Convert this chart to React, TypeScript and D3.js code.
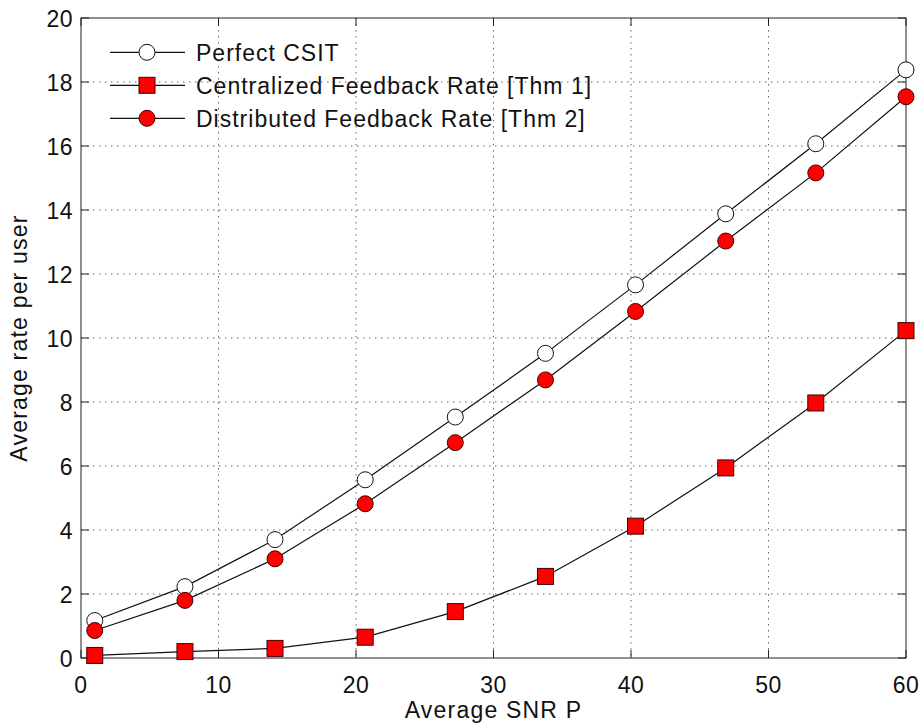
import React from "react";
import * as d3 from "d3";

const snr = [1, 7.56, 14.11, 20.67, 27.22, 33.78, 40.33, 46.89, 53.44, 60];
const perfectCSIT = [1.17, 2.23, 3.7, 5.57, 7.53, 9.52, 11.66, 13.88, 16.07, 18.38];
const centralized = [0.08, 0.2, 0.3, 0.65, 1.45, 2.55, 4.12, 5.94, 7.97, 10.23];
const distributed = [0.86, 1.8, 3.1, 4.82, 6.73, 8.69, 10.83, 13.03, 15.16, 17.54];
const xTicks = [0, 10, 20, 30, 40, 50, 60];
const yTicks = [0, 2, 4, 6, 8, 10, 12, 14, 16, 18, 20];
const legendLabels = [
  "Perfect CSIT",
  "Centralized Feedback Rate [Thm 1]",
  "Distributed Feedback Rate [Thm 2]",
];

const W = 924, H = 726;
const L = 81, R = 906, T = 18, B = 658;
const FONT = "'Liberation Sans', Arial, Helvetica, sans-serif";

export default function App() {
  const x = d3.scaleLinear().domain([0, 60]).range([L, R]);
  const y = d3.scaleLinear().domain([0, 20]).range([B, T]);
  const line = d3.line<number>().x((_, i) => x(snr[i])).y((d) => y(d));
  const gridStyle = { stroke: "#666", strokeWidth: 1, strokeDasharray: "1.5,4.5" };
  const tickLen = 8;

  const series = [
    { data: perfectCSIT, marker: "openCircle" },
    { data: centralized, marker: "square" },
    { data: distributed, marker: "circle" },
  ];

  const marker = (type: string, cx: number, cy: number, key: any) => {
    if (type === "openCircle")
      return <circle key={key} cx={cx} cy={cy} r={8} fill="white" stroke="#111" strokeWidth={1} />;
    if (type === "circle")
      return <circle key={key} cx={cx} cy={cy} r={8} fill="#ff0000" stroke="#400" strokeWidth={1} />;
    return <rect key={key} x={cx - 8} y={cy - 8} width={16} height={16} fill="#ff0000" stroke="#400" strokeWidth={1} />;
  };

  return (
    <svg width={W} height={H} style={{ position: "absolute", left: 0, top: 0, background: "white" }} fontFamily={FONT}>
      <rect x={0} y={0} width={W} height={H} fill="white" />
      {/* grid */}
      {xTicks.slice(1, -1).map((t) => (
        <line key={"gx" + t} x1={x(t)} x2={x(t)} y1={T} y2={B} style={gridStyle} />
      ))}
      {yTicks.slice(1, -1).map((t) => (
        <line key={"gy" + t} x1={L} x2={R} y1={y(t)} y2={y(t)} style={gridStyle} />
      ))}
      {/* axes box */}
      <rect x={L} y={T} width={R - L} height={B - T} fill="none" stroke="#222" strokeWidth={1} />
      {/* ticks */}
      {xTicks.map((t) => (
        <g key={"tx" + t}>
          <line x1={x(t)} x2={x(t)} y1={B} y2={B - tickLen} stroke="#222" />
          <line x1={x(t)} x2={x(t)} y1={T} y2={T + tickLen} stroke="#222" />
          <text x={x(t)} y={B + 35} fontSize={23} letterSpacing={0.5} textAnchor="middle" fill="#111">{t}</text>
        </g>
      ))}
      {yTicks.map((t) => (
        <g key={"ty" + t}>
          <line x1={L} x2={L + tickLen} y1={y(t)} y2={y(t)} stroke="#222" />
          <line x1={R} x2={R - tickLen} y1={y(t)} y2={y(t)} stroke="#222" />
          <text x={L - 8} y={y(t) + 9} fontSize={23} letterSpacing={0.5} textAnchor="end" fill="#111">{t}</text>
        </g>
      ))}
      {/* series */}
      {series.map((s, si) => (
        <g key={"s" + si}>
          <path d={line(s.data) || ""} fill="none" stroke="#111" strokeWidth={1.2} />
          {s.data.map((v, i) => marker(s.marker, x(snr[i]), y(v), i))}
        </g>
      ))}
      {/* legend */}
      {series.map((s, i) => {
        const ly = 52.3 + i * 33;
        return (
          <g key={"lg" + i}>
            <line x1={110} x2={185} y1={ly} y2={ly} stroke="#111" strokeWidth={1.2} />
            {marker(s.marker, 147, ly, "m")}
            <text x={196} y={ly + 9} fontSize={23} letterSpacing={1} fill="#111">{legendLabels[i]}</text>
          </g>
        );
      })}
      {/* axis titles */}
      <text x={(L + R) / 2} y={718} fontSize={23} letterSpacing={1.2} textAnchor="middle" fill="#111">Average SNR P</text>
      <text transform={`translate(27, ${(T + B) / 2}) rotate(-90)`} fontSize={23} letterSpacing={1.2} textAnchor="middle" fill="#111">Average rate per user</text>
    </svg>
  );
}
